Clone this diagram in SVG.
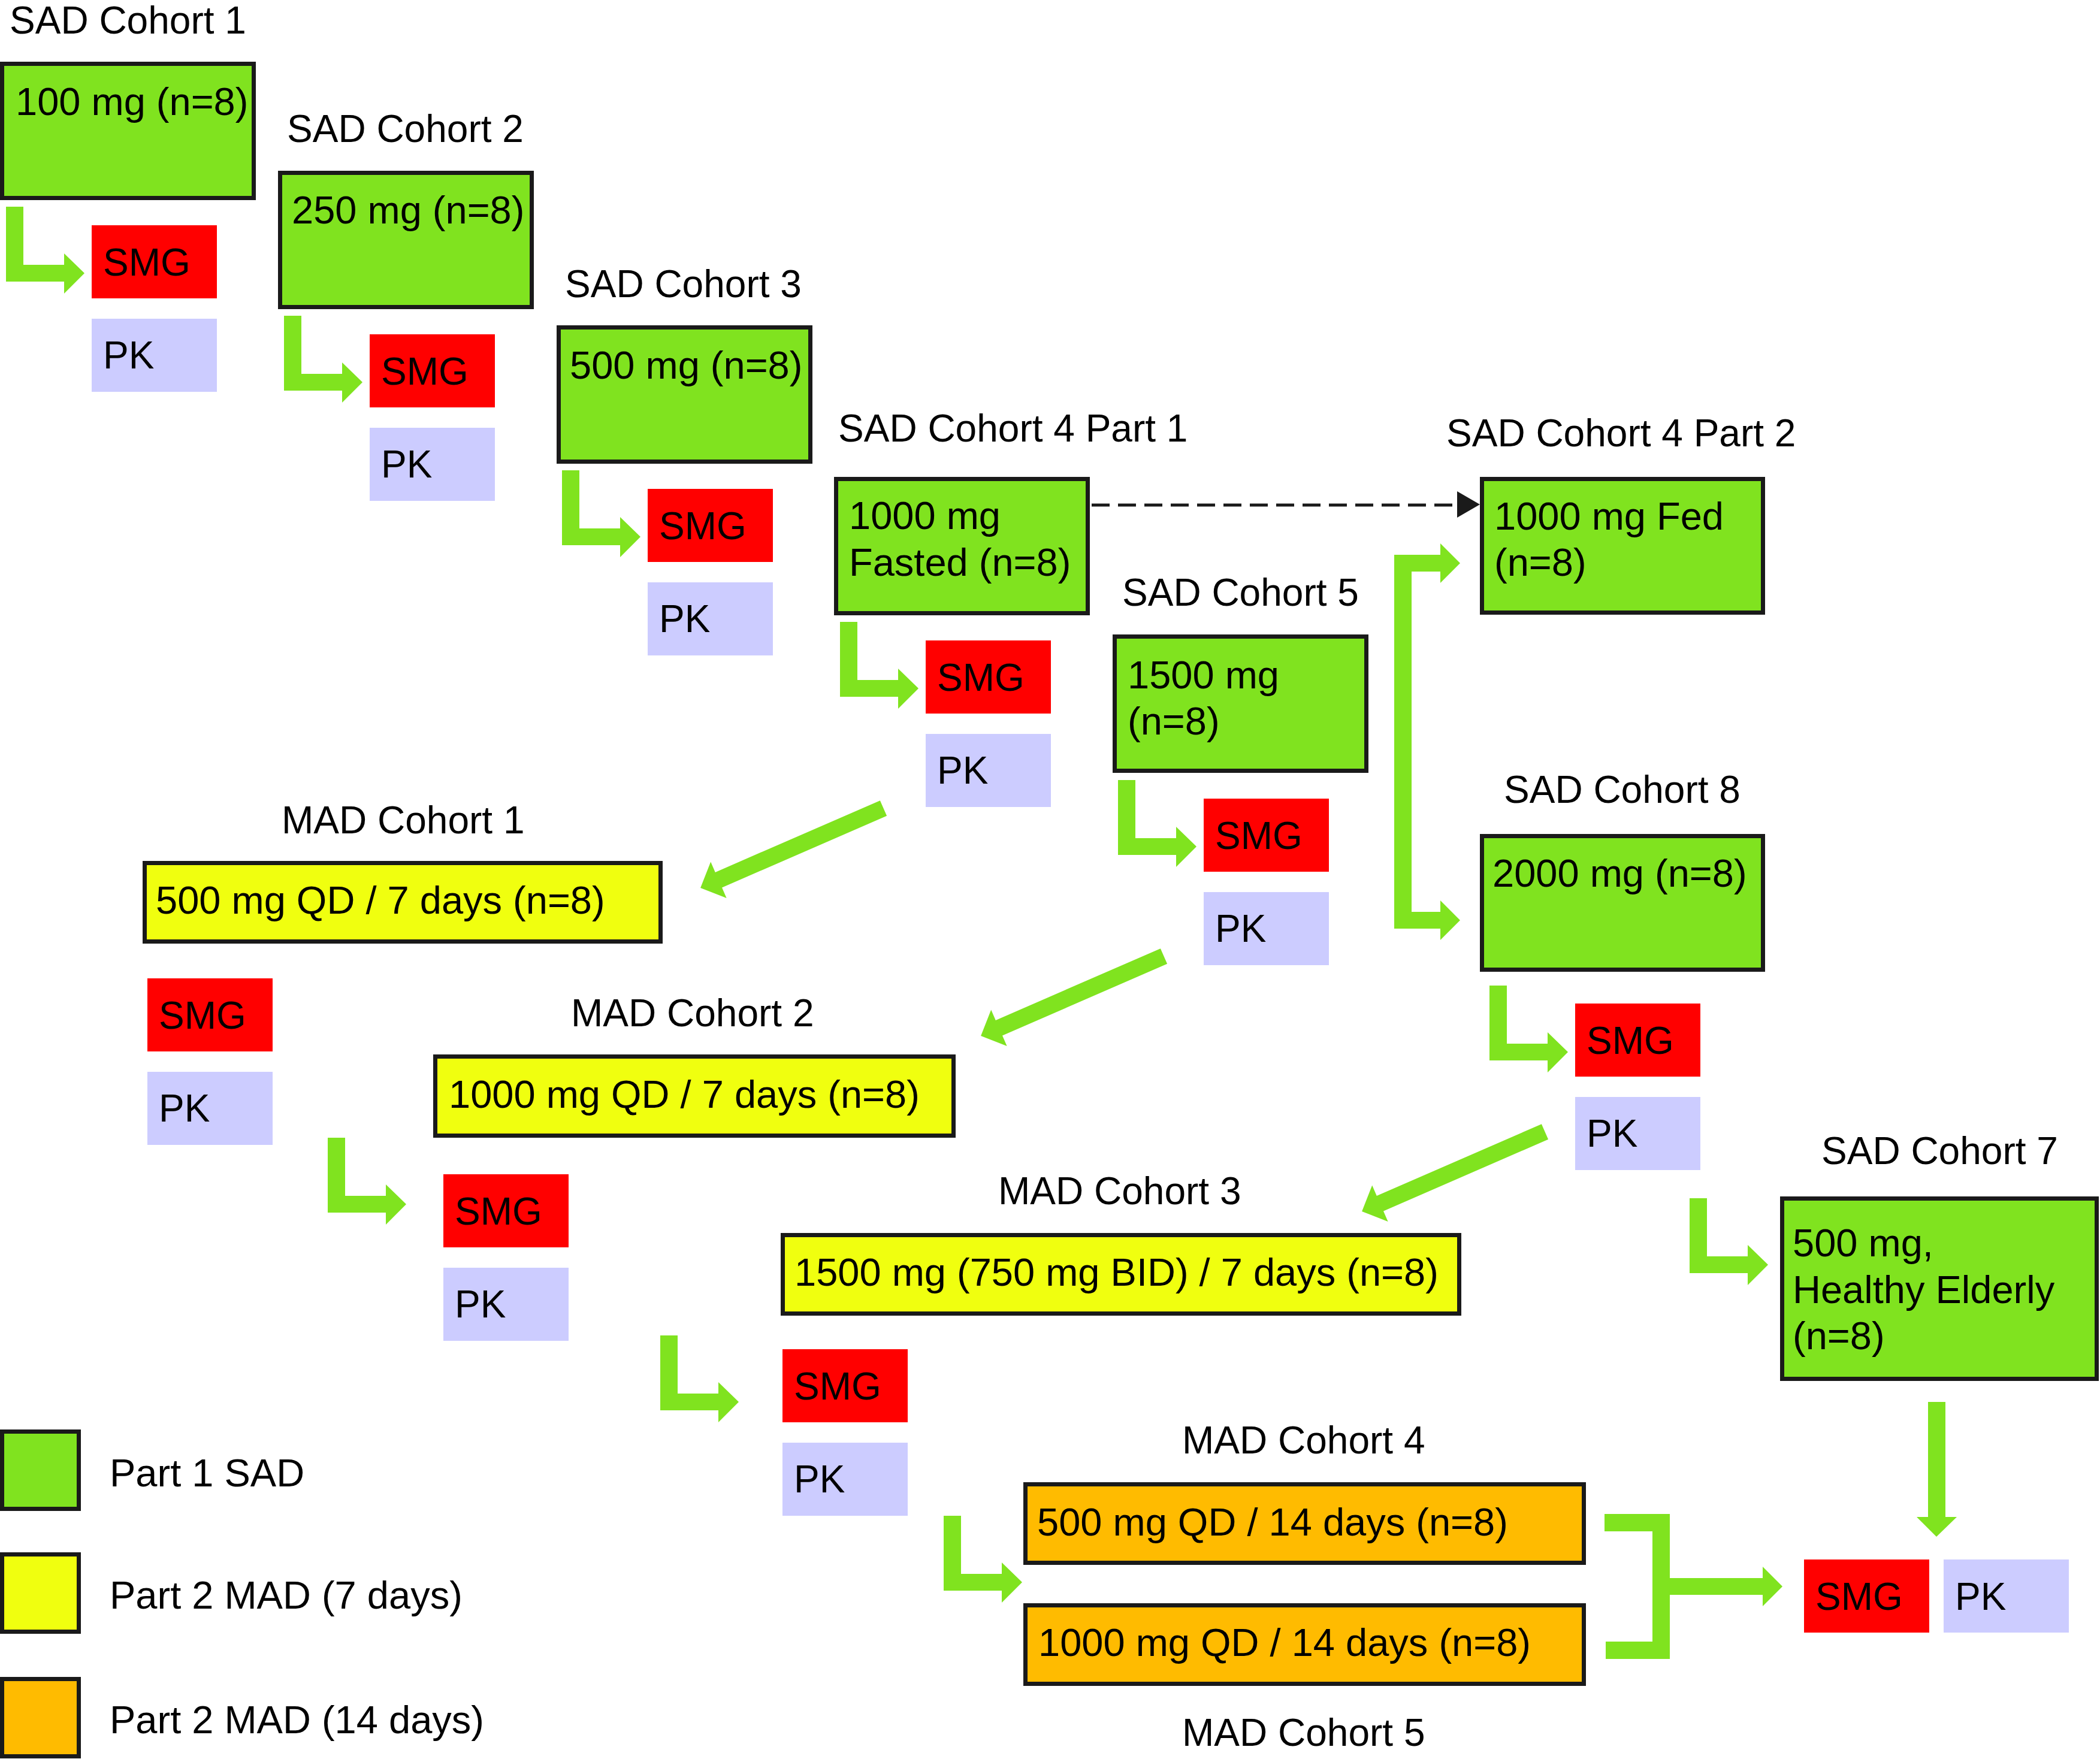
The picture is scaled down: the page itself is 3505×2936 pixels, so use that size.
<svg xmlns="http://www.w3.org/2000/svg" xmlns:xlink="http://www.w3.org/1999/xlink" width="3505" height="2936" viewBox="0 0 3505 2936">
<style>
text{font-family:"Liberation Sans",Arial,sans-serif;font-size:64px;fill:#000}
.b{font-size:65px}
.sad{fill:#80E31F;stroke:#1A1A1A;stroke-width:7}
.mad7{fill:#F0FF0F;stroke:#1A1A1A;stroke-width:7}
.mad14{fill:#FFBB00;stroke:#1A1A1A;stroke-width:7}
.smg{fill:#FF0000}
.pk{fill:#CCCCFF}
.arr{fill:#80E31F}
</style>
<defs>
<path id="elbow" d="M-143,-31 H-114 V66 H-46 V47 L-12,80 L-46,114 V94 H-143 Z"/>
<path id="diag" d="M5.6,12.8 L-5.6,-12.8 L-280.7,106.9 L-288.3,89.4 L-305.4,132.9 L-261.9,150 L-269.5,132.5 Z"/>
</defs>
<rect width="3505" height="2936" fill="#fff"/>

<g id="connectors">
<g class="arr">
<use xlink:href="#elbow" href="#elbow" x="153" y="376"/>
<use xlink:href="#elbow" href="#elbow" x="617" y="558"/>
<use xlink:href="#elbow" href="#elbow" x="1081" y="816"/>
<use xlink:href="#elbow" href="#elbow" x="1545" y="1069"/>
<use xlink:href="#elbow" href="#elbow" x="2009" y="1333"/>
<use xlink:href="#elbow" href="#elbow" x="2629" y="1676"/>
<use xlink:href="#elbow" href="#elbow" x="2963" y="2031"/>
<use xlink:href="#elbow" href="#elbow" x="690" y="1930"/>
<use xlink:href="#elbow" href="#elbow" x="1245" y="2260"/>
<use xlink:href="#elbow" href="#elbow" x="1718" y="2561"/>
<use xlink:href="#diag" href="#diag" x="1474.5" y="1349"/>
<use xlink:href="#diag" href="#diag" x="1942.5" y="1596"/>
<use xlink:href="#diag" href="#diag" x="2578.5" y="1889"/>
<path d="M2327,926 L2404,926 L2404,907 L2437,940 L2404,973 L2404,954 L2356,954 L2356,1522 L2404,1522 L2404,1503 L2437,1536 L2404,1569 L2404,1550 L2327,1550 Z"/>
<path d="M2678,2527 L2787,2527 L2787,2634 L2942,2634 L2942,2615 L2975,2648 L2942,2681 L2942,2662 L2787,2662 L2787,2769 L2680,2769 L2680,2740 L2758,2740 L2758,2556 L2678,2556 Z"/>
<path d="M3218,2340 L3247,2340 L3247,2532 L3266,2532 L3232,2565 L3199,2532 L3218,2532 Z"/>
</g>
<line x1="1822" y1="843" x2="2434" y2="843" stroke="#1A1A1A" stroke-width="5" stroke-dasharray="30,14"/>
<path d="M2432,820 L2470,842 L2432,864 Z" fill="#1A1A1A"/>
</g>

<g id="sad1">
<text x="16" y="56">SAD Cohort 1</text>
<rect class="sad" x="3.5" y="106.5" width="420" height="224"/>
<text class="b" x="26" y="192">100 mg (n=8)</text>
</g>
<g id="sad1-smg"><rect class="smg" x="153" y="376" width="209" height="122"/><text x="172" y="460">SMG</text></g>
<g id="sad1-pk"><rect class="pk" x="153" y="532" width="209" height="122"/><text x="172" y="615">PK</text></g>

<g id="sad2">
<text x="479" y="237">SAD Cohort 2</text>
<rect class="sad" x="467.5" y="288.5" width="420" height="224"/>
<text class="b" x="487" y="373">250 mg (n=8)</text>
</g>
<g id="sad2-smg"><rect class="smg" x="617" y="558" width="209" height="122"/><text x="636" y="642">SMG</text></g>
<g id="sad2-pk"><rect class="pk" x="617" y="714" width="209" height="122"/><text x="636" y="797">PK</text></g>

<g id="sad3">
<text x="943" y="496">SAD Cohort 3</text>
<rect class="sad" x="932.5" y="546.5" width="420" height="224"/>
<text class="b" x="951" y="632">500 mg (n=8)</text>
</g>
<g id="sad3-smg"><rect class="smg" x="1081" y="816" width="209" height="122"/><text x="1100" y="900">SMG</text></g>
<g id="sad3-pk"><rect class="pk" x="1081" y="972" width="209" height="122"/><text x="1100" y="1055">PK</text></g>

<g id="sad4p1">
<text x="1399" y="737">SAD Cohort 4 Part 1</text>
<rect class="sad" x="1395.5" y="799.5" width="420" height="224"/>
<text class="b" x="1417" y="883">1000 mg</text>
<text class="b" x="1417" y="961">Fasted (n=8)</text>
</g>
<g id="sad4-smg"><rect class="smg" x="1545" y="1069" width="209" height="122"/><text x="1564" y="1153">SMG</text></g>
<g id="sad4-pk"><rect class="pk" x="1545" y="1225" width="209" height="122"/><text x="1564" y="1308">PK</text></g>

<g id="sad5">
<text x="1873" y="1011">SAD Cohort 5</text>
<rect class="sad" x="1860.5" y="1062.5" width="420" height="224"/>
<text class="b" x="1882" y="1149">1500 mg</text>
<text class="b" x="1882" y="1226">(n=8)</text>
</g>
<g id="sad5-smg"><rect class="smg" x="2009" y="1333" width="209" height="122"/><text x="2028" y="1417">SMG</text></g>
<g id="sad5-pk"><rect class="pk" x="2009" y="1489" width="209" height="122"/><text x="2028" y="1572">PK</text></g>

<g id="sad4p2">
<text x="2414" y="745">SAD Cohort 4 Part 2</text>
<rect class="sad" x="2473.5" y="799.5" width="469" height="223"/>
<text class="b" x="2494" y="884">1000 mg Fed</text>
<text class="b" x="2494" y="961">(n=8)</text>
</g>

<g id="sad8">
<text x="2510" y="1340">SAD Cohort 8</text>
<rect class="sad" x="2473.5" y="1395.5" width="469" height="223"/>
<text class="b" x="2491" y="1480">2000 mg (n=8)</text>
</g>
<g id="sad8-smg"><rect class="smg" x="2629" y="1675" width="209" height="122"/><text x="2648" y="1759">SMG</text></g>
<g id="sad8-pk"><rect class="pk" x="2629" y="1831" width="209" height="122"/><text x="2648" y="1914">PK</text></g>

<g id="sad7">
<text x="3040" y="1943">SAD Cohort 7</text>
<rect class="sad" x="2974.5" y="2000.5" width="525" height="301"/>
<text class="b" x="2992" y="2097">500 mg,</text>
<text class="b" x="2992" y="2175">Healthy Elderly</text>
<text class="b" x="2992" y="2252">(n=8)</text>
</g>

<g id="mad1">
<text x="470" y="1391">MAD Cohort 1</text>
<rect class="mad7" x="241.5" y="1440.5" width="861" height="131"/>
<text class="b" x="260" y="1525">500 mg QD / 7 days (n=8)</text>
</g>
<g id="mad1-smg"><rect class="smg" x="246" y="1633" width="209" height="122"/><text x="265" y="1717">SMG</text></g>
<g id="mad1-pk"><rect class="pk" x="246" y="1789" width="209" height="122"/><text x="265" y="1872">PK</text></g>

<g id="mad2">
<text x="953" y="1713">MAD Cohort 2</text>
<rect class="mad7" x="726.5" y="1763.5" width="865" height="132"/>
<text class="b" x="749" y="1849">1000 mg QD / 7 days (n=8)</text>
</g>
<g id="mad2-smg"><rect class="smg" x="740" y="1960" width="209" height="122"/><text x="759" y="2044">SMG</text></g>
<g id="mad2-pk"><rect class="pk" x="740" y="2116" width="209" height="122"/><text x="759" y="2199">PK</text></g>

<g id="mad3">
<text x="1666" y="2010">MAD Cohort 3</text>
<rect class="mad7" x="1306.5" y="2061.5" width="1129" height="131"/>
<text class="b" x="1326" y="2146">1500 mg (750 mg BID) / 7 days (n=8)</text>
</g>
<g id="mad3-smg"><rect class="smg" x="1306" y="2252" width="209" height="122"/><text x="1325" y="2336">SMG</text></g>
<g id="mad3-pk"><rect class="pk" x="1306" y="2408" width="209" height="122"/><text x="1325" y="2491">PK</text></g>

<g id="mad4">
<text x="1973" y="2426">MAD Cohort 4</text>
<rect class="mad14" x="1711.5" y="2477.5" width="932" height="131"/>
<text class="b" x="1731" y="2563">500 mg QD / 14 days (n=8)</text>
</g>
<g id="mad5">
<rect class="mad14" x="1711.5" y="2679.5" width="932" height="131"/>
<text class="b" x="1733" y="2764">1000 mg QD / 14 days (n=8)</text>
<text x="1973" y="2914">MAD Cohort 5</text>
</g>

<g id="final-smg"><rect class="smg" x="3011" y="2603" width="209" height="122"/><text x="3030" y="2687">SMG</text></g>
<g id="final-pk"><rect class="pk" x="3244" y="2603" width="209" height="122"/><text x="3263" y="2687">PK</text></g>

<g id="legend">
<rect class="sad" x="3.5" y="2389.5" width="128" height="129"/>
<text class="b" x="183" y="2481">Part 1 SAD</text>
<rect class="mad7" x="3.5" y="2594.5" width="128" height="129"/>
<text class="b" x="183" y="2685">Part 2 MAD (7 days)</text>
<rect class="mad14" x="3.5" y="2802.5" width="128" height="129"/>
<text class="b" x="183" y="2893">Part 2 MAD (14 days)</text>
</g>
</svg>
